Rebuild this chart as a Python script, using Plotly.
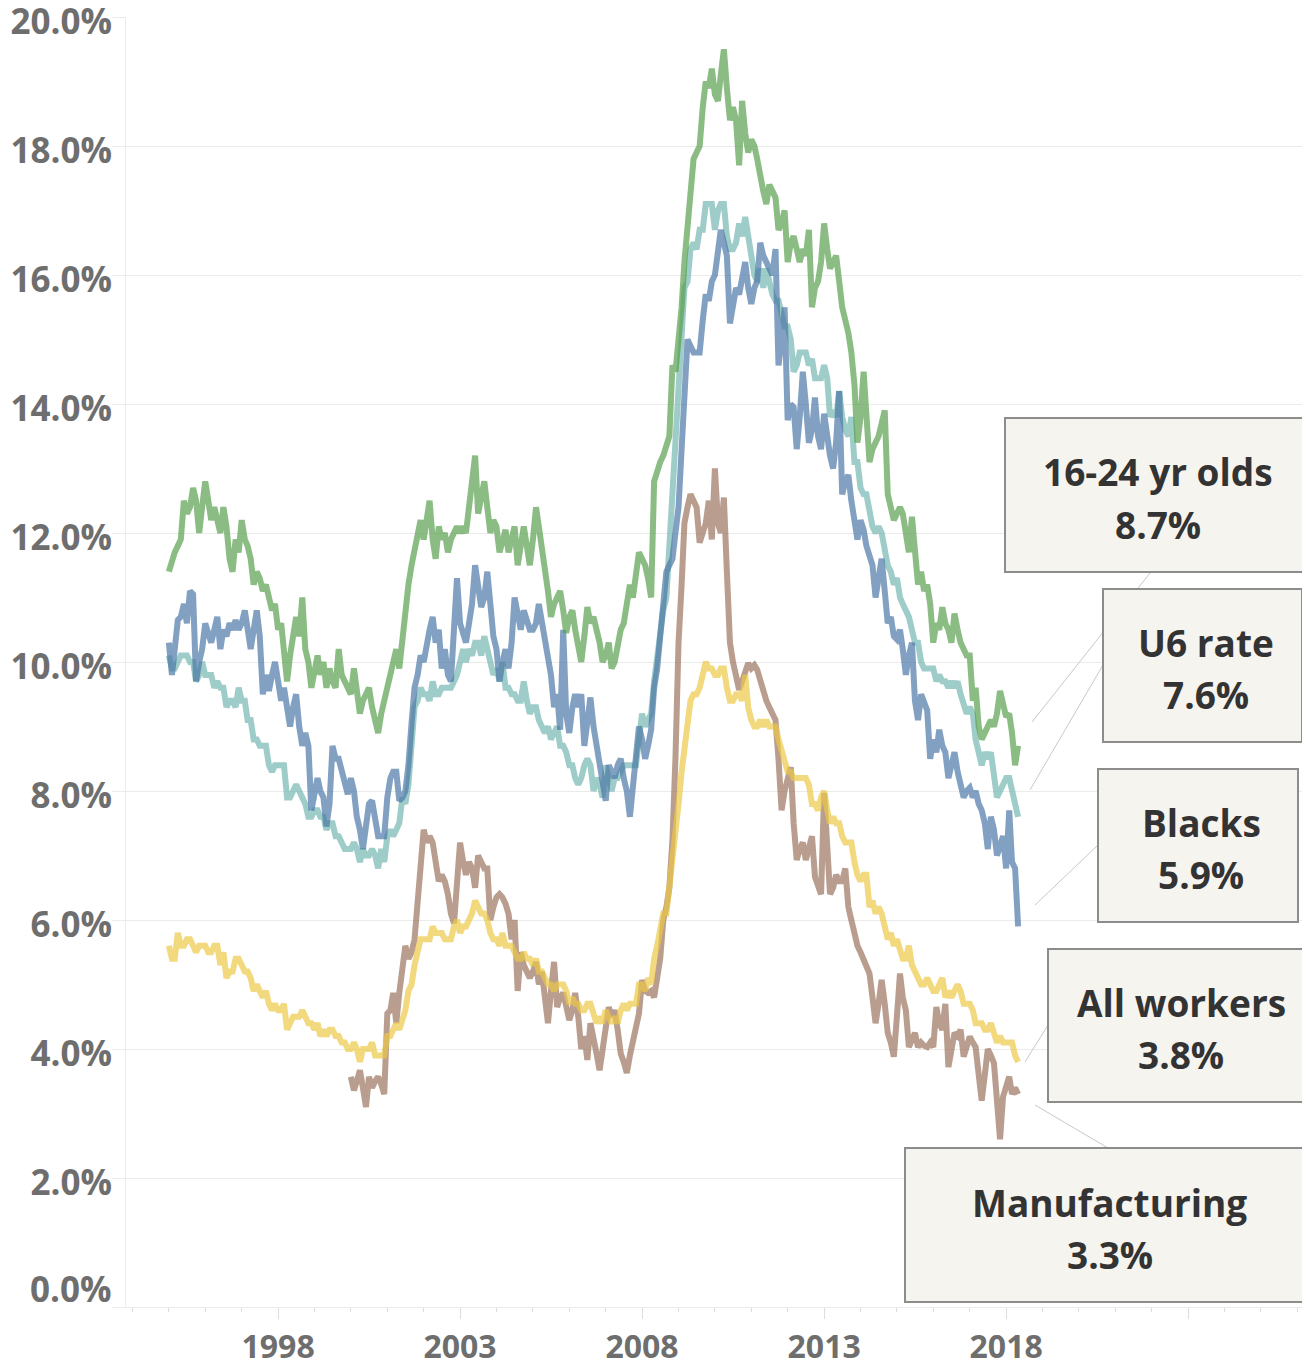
import pandas as pd
import plotly.graph_objs as go

########################################################################################################################
# UNEMPLOYMENT RATES [%], MONTHLY, JAN 1995 - MAY 2018 (manufacturing starts JAN 2000)

months = pd.date_range('1995-01-01', '2018-05-01', freq='MS')
months_mfg = pd.date_range('2000-01-01', '2018-05-01', freq='MS')

youth = [
    11.4, 11.6, 11.7, 11.8, 11.9, 12.5, 12.3, 12.4, 12.7, 12.5, 12.0, 12.4,
    12.8, 12.5, 12.2, 12.4, 12.2, 12.0, 12.4, 12.1, 11.6, 11.4, 11.9, 11.7,
    12.2, 11.9, 11.8, 11.6, 11.2, 11.4, 11.3, 11.1, 11.2, 11.0, 10.8, 10.9,
    10.5, 10.6, 10.2, 9.7, 10.1, 10.5, 10.7, 10.4, 11.0, 10.2, 10.0, 9.6,
    9.9, 10.1, 9.8, 10.0, 9.6, 9.9, 9.7, 9.6, 10.2, 9.8, 9.7, 9.6,
    9.5, 9.9, 9.6, 9.2, 9.4, 9.5, 9.6, 9.3, 9.1, 8.9, 9.2, 9.4,
    9.6, 9.8, 10.0, 10.2, 9.9, 10.4, 10.7, 11.2, 11.5, 11.7, 11.9, 12.2,
    11.9, 12.2, 12.5, 11.9, 11.6, 12.1, 11.9, 12.0, 11.7, 11.9, 12.0, 12.1,
    12.0, 12.1, 12.0, 12.4, 12.8, 13.2, 12.3, 12.6, 12.8, 12.4, 12.0, 12.2,
    12.1, 11.7, 11.9, 12.05, 11.7, 11.9, 12.1, 11.5, 11.8, 12.1, 11.8, 11.5,
    11.9, 12.4, 12.1, 11.8, 11.5, 11.1, 10.7, 10.9, 11.0, 11.1, 10.8, 10.45,
    10.7, 10.8, 10.5, 10.2, 10.0, 10.4, 10.85, 10.6, 10.7, 10.5, 10.3, 10.0,
    10.1, 10.3, 9.9, 10.0, 10.3, 10.5, 10.6, 10.9, 11.2, 11.0, 11.4, 11.7,
    11.6, 11.5, 11.3, 11.0, 12.8, 13.0, 13.1, 13.2, 13.4, 13.5, 14.6, 14.5,
    15.0, 15.5, 16.2, 16.7, 17.3, 17.8, 17.9, 18.0, 18.6, 19.0, 18.9, 19.2,
    18.8, 18.7, 19.1, 19.5, 18.9, 18.4, 18.6, 18.4, 17.7, 18.7, 18.2, 17.9,
    18.1, 18.0, 17.8, 17.5, 17.3, 17.1, 17.4, 17.3, 17.2, 16.7, 16.8, 17.0,
    16.2, 16.5, 16.6, 16.4, 16.2, 16.4, 16.3, 16.7, 15.5, 15.8, 15.9, 16.2,
    16.8, 16.4, 16.1, 16.2, 16.3, 15.9, 15.5, 15.3, 15.1, 14.8, 14.3, 13.4,
    13.8, 14.5, 13.9, 13.1, 13.3, 13.4, 13.5, 13.7, 13.9, 12.6, 12.4, 12.2,
    12.3, 12.4, 12.3, 12.0, 11.7, 12.25, 11.8, 11.2, 11.4, 11.1, 11.2, 10.9,
    10.3, 10.6, 10.5, 10.85, 10.6, 10.5, 10.3, 10.75, 10.5, 10.3, 10.2, 10.1,
    10.1, 9.4, 9.6, 9.0, 8.8, 8.9, 9.0, 9.1, 9.0, 9.2, 9.55, 9.3,
    9.15, 9.2, 8.9, 8.4, 8.7,
]

u6 = [
    10.1, 9.9, 9.9, 10.0, 10.1, 10.1, 10.1, 10.0, 10.0, 9.7, 9.8, 10.0,
    9.8, 9.8, 9.8, 9.6, 9.7, 9.6, 9.6, 9.3, 9.4, 9.4, 9.3, 9.6,
    9.4, 9.4, 9.1, 9.1, 8.8, 8.8, 8.7, 8.7, 8.7, 8.4, 8.3, 8.4,
    8.4, 8.4, 8.4, 7.9, 7.9, 8.0, 8.1, 8.0, 7.9, 7.8, 7.6, 7.6,
    7.7, 7.7, 7.6, 7.6, 7.4, 7.5, 7.5, 7.3, 7.3, 7.2, 7.1, 7.1,
    7.1, 7.2, 7.1, 6.9, 7.1, 7.0, 7.0, 7.1, 7.0, 6.8, 7.1, 6.9,
    7.3, 7.4, 7.3, 7.4, 7.5, 7.9, 7.8, 8.1, 8.7, 9.3, 9.4, 9.6,
    9.5, 9.5, 9.4, 9.7, 9.5, 9.5, 9.6, 9.6, 9.6, 9.6, 9.7, 9.8,
    10.0, 10.2, 10.0, 10.2, 10.1, 10.3, 10.3, 10.1, 10.4, 10.2, 10.0, 9.8,
    9.9, 9.7, 10.0, 9.6, 9.6, 9.5, 9.5, 9.4, 9.4, 9.7, 9.4, 9.2,
    9.3, 9.3, 9.1, 9.0, 8.9, 9.0, 8.8, 8.9, 9.0, 8.7, 8.7, 8.6,
    8.4, 8.4, 8.2, 8.1, 8.2, 8.4, 8.5, 8.4, 8.0, 8.2, 8.1, 7.9,
    8.4, 8.2, 8.0, 8.2, 8.2, 8.3, 8.4, 8.4, 8.4, 8.4, 8.4, 8.8,
    9.2, 9.0, 9.1, 9.2, 9.7, 10.1, 10.5, 10.8, 11.0, 11.8, 12.6, 13.6,
    14.2, 15.2, 15.8, 15.9, 16.4, 16.5, 16.4, 16.7, 16.7, 17.1, 17.1, 17.1,
    16.7, 17.0, 17.1, 17.1, 16.6, 16.4, 16.4, 16.5, 16.8, 16.6, 16.9, 16.6,
    16.2, 16.0, 15.9, 16.1, 15.8, 16.1, 15.9, 15.7, 15.6, 15.6, 15.4, 15.2,
    15.2, 15.0, 14.5, 14.6, 14.8, 14.8, 14.8, 14.6, 14.7, 14.4, 14.4, 14.4,
    14.6, 14.4, 13.8, 13.9, 13.8, 14.2, 13.8, 13.6, 13.5, 13.8, 13.1, 13.1,
    12.7, 12.6, 12.6, 12.3, 12.1, 12.0, 12.1, 12.0, 11.7, 11.5, 11.4, 11.2,
    11.3, 11.0, 10.9, 10.8, 10.7, 10.5, 10.3, 10.3, 10.0, 9.9, 9.9, 9.9,
    9.9, 9.7, 9.8, 9.7, 9.7, 9.6, 9.7, 9.6, 9.7, 9.5, 9.3, 9.2,
    9.3, 9.2, 8.8, 8.6, 8.4, 8.6, 8.5, 8.6, 8.3, 7.9, 8.0, 8.1,
    8.2, 8.2, 8.0, 7.8, 7.6,
]

blacks = [
    10.3, 9.8, 10.2, 10.65, 10.7, 10.9, 10.6, 11.1, 11.05, 9.7, 10.0, 10.2,
    10.6, 10.4, 10.3, 10.5, 10.7, 10.2, 10.5, 10.4, 10.6, 10.5, 10.65, 10.5,
    10.6, 10.8, 10.5, 10.2, 10.5, 10.8, 10.4, 9.5, 9.8, 9.55, 9.8, 10.0,
    9.7, 9.4, 9.6, 9.2, 9.0, 9.3, 9.5, 9.0, 8.7, 8.9, 8.7, 7.7,
    8.0, 8.2, 8.0, 7.9, 7.45, 7.8, 8.7, 8.5, 8.5, 8.3, 8.1, 7.95,
    8.2, 8.0, 7.6, 7.4, 7.1, 7.5, 7.8, 7.85, 7.5, 7.3, 7.3, 7.3,
    7.9, 8.2, 8.3, 8.3, 7.85, 7.9, 8.0, 8.4, 9.05, 9.6, 9.8, 10.1,
    10.0, 10.3, 10.5, 10.7, 10.3, 10.5, 9.9, 10.2, 9.8, 9.7, 10.4, 11.3,
    10.6, 10.45, 10.3, 10.6, 10.9, 11.5, 11.1, 10.85, 11.0, 11.4, 10.9, 10.4,
    10.2, 9.7, 10.0, 10.2, 9.9, 10.3, 11.0, 10.7, 10.5, 10.8, 10.6, 10.5,
    10.5, 10.6, 10.9, 10.6, 10.4, 10.1, 9.8, 9.3, 9.5, 8.95, 10.5, 9.2,
    8.9, 9.3, 9.5, 9.3, 9.5, 8.7, 9.1, 9.45, 9.0, 8.7, 8.5, 8.1,
    7.85, 8.4, 8.3, 8.2, 8.4, 8.5, 8.2, 8.0, 7.6, 8.1, 8.4, 9.0,
    8.8, 8.5, 8.7, 8.95, 9.6, 9.9, 10.4, 10.9, 11.4, 11.5, 11.6, 12.0,
    12.4, 13.3, 14.0, 15.0, 14.9, 14.8, 14.8, 14.8, 15.3, 15.7, 15.6, 15.9,
    16.0, 16.3, 16.7, 16.5, 16.3, 15.25, 15.5, 15.8, 15.7, 15.9, 16.2, 15.8,
    15.55, 15.8, 15.9, 16.5, 16.3, 16.2, 16.1, 16.0, 16.4, 14.6, 15.0, 15.5,
    13.75, 14.0, 13.95, 13.3, 13.8, 14.5, 14.0, 13.4, 13.6, 14.1, 13.5, 13.3,
    13.85, 13.4, 13.2, 13.0, 13.4, 14.2, 12.6, 12.8, 12.9, 12.5, 12.2, 11.9,
    12.2, 12.05, 11.8, 11.6, 11.5, 11.0, 11.3, 11.6, 11.1, 10.6, 10.7, 10.4,
    10.35, 10.5, 10.2, 9.8, 10.1, 10.3, 9.4, 9.1, 9.5, 9.4, 9.25, 8.5,
    8.8, 8.6, 8.95, 8.7, 8.6, 8.2, 8.4, 8.6, 8.3, 8.1, 7.9, 8.0,
    8.05, 7.9, 8.0, 7.8, 7.7, 7.5, 7.1, 7.6, 7.4, 7.0, 7.2, 7.3,
    6.8, 7.7, 6.9, 6.8, 5.9,
]

all_workers = [
    5.6, 5.4, 5.4, 5.8, 5.6, 5.6, 5.7, 5.7, 5.6, 5.5, 5.6, 5.6,
    5.6, 5.5, 5.5, 5.6, 5.6, 5.3, 5.5, 5.1, 5.2, 5.2, 5.4, 5.4,
    5.3, 5.2, 5.2, 5.1, 4.9, 5.0, 4.9, 4.8, 4.9, 4.7, 4.6, 4.7,
    4.6, 4.6, 4.7, 4.3, 4.4, 4.5, 4.5, 4.5, 4.6, 4.5, 4.4, 4.4,
    4.3, 4.4, 4.2, 4.3, 4.2, 4.3, 4.3, 4.2, 4.2, 4.1, 4.1, 4.0,
    4.0, 4.1, 4.0, 3.8, 4.0, 4.0, 4.0, 4.1, 3.9, 3.9, 3.9, 3.9,
    4.2, 4.2, 4.3, 4.4, 4.3, 4.5, 4.6, 4.9, 5.0, 5.3, 5.5, 5.7,
    5.7, 5.7, 5.7, 5.9, 5.8, 5.8, 5.8, 5.7, 5.7, 5.7, 5.9, 6.0,
    5.8, 5.9, 5.9, 6.0, 6.1, 6.3, 6.2, 6.1, 6.1, 6.0, 5.8, 5.7,
    5.7, 5.6, 5.8, 5.6, 5.6, 5.6, 5.5, 5.4, 5.4, 5.5, 5.4, 5.4,
    5.3, 5.4, 5.2, 5.2, 5.1, 5.0, 5.0, 4.9, 5.0, 5.0, 5.0, 4.9,
    4.7, 4.8, 4.7, 4.7, 4.6, 4.6, 4.7, 4.7, 4.5, 4.4, 4.5, 4.4,
    4.6, 4.5, 4.4, 4.5, 4.4, 4.6, 4.7, 4.6, 4.7, 4.7, 4.7, 5.0,
    5.0, 4.9, 5.1, 5.0, 5.4, 5.6, 5.8, 6.1, 6.1, 6.5, 6.8, 7.3,
    7.8, 8.3, 8.7, 9.0, 9.4, 9.5, 9.5, 9.6, 9.8, 10.0, 9.9, 9.9,
    9.8, 9.8, 9.9, 9.9, 9.6, 9.4, 9.4, 9.5, 9.5, 9.4, 9.8, 9.3,
    9.1, 9.0, 9.0, 9.1, 9.0, 9.1, 9.0, 9.0, 9.0, 8.8, 8.6, 8.5,
    8.3, 8.3, 8.2, 8.2, 8.2, 8.2, 8.2, 8.1, 7.8, 7.8, 7.7, 7.9,
    8.0, 7.7, 7.5, 7.6, 7.5, 7.5, 7.3, 7.2, 7.2, 7.2, 6.9, 6.7,
    6.6, 6.7, 6.7, 6.2, 6.3, 6.1, 6.2, 6.1, 5.9, 5.7, 5.8, 5.6,
    5.7, 5.5, 5.4, 5.4, 5.6, 5.3, 5.2, 5.1, 5.0, 5.0, 5.1, 5.0,
    4.9, 4.9, 5.0, 5.1, 4.8, 4.9, 4.8, 4.9, 5.0, 4.9, 4.7, 4.7,
    4.7, 4.6, 4.4, 4.4, 4.4, 4.3, 4.3, 4.4, 4.2, 4.1, 4.2, 4.1,
    4.1, 4.1, 4.1, 3.9, 3.8,
]

manufacturing = [
    3.57, 3.36, 3.5, 3.67, 3.4, 3.1, 3.57, 3.4, 3.5, 3.57, 3.45, 3.3,
    4.55, 4.6, 4.87, 4.4, 4.87, 5.2, 5.6, 5.4, 5.5, 5.7, 6.3, 6.9,
    7.4, 7.2, 7.3, 7.2, 6.9, 6.6, 6.7, 6.6, 6.4, 6.1, 5.95, 6.6,
    7.2, 6.9, 6.7, 6.9, 6.8, 6.5, 7.0, 6.9, 6.8, 6.8, 6.0, 6.2,
    6.35, 6.4, 6.35, 6.25, 6.1, 5.7, 6.0, 4.9, 5.5, 5.3, 5.2, 5.1,
    5.2, 5.35, 5.0, 5.2, 4.8, 4.4, 4.9, 5.35, 4.65, 4.8, 4.87, 4.6,
    4.45, 4.6, 4.87, 4.5, 4.0, 4.2, 3.83, 4.4, 4.2, 3.93, 3.67, 4.0,
    4.35, 4.65, 4.5, 4.6, 4.3, 3.93, 3.8, 3.63, 3.9, 4.14, 4.3, 4.55,
    5.07, 4.9, 4.87, 4.9, 4.8, 5.1, 5.4, 6.0, 6.2, 6.5, 7.24, 8.5,
    10.3, 11.2, 12.15, 12.4, 12.6, 12.5, 12.4, 11.85, 12.0, 12.15, 12.5, 11.9,
    13.0, 12.15, 12.0, 12.55, 11.4, 10.3, 10.0, 9.8, 9.57, 9.7, 9.88, 9.98,
    9.9, 9.95, 9.88, 9.7, 9.57, 9.4, 9.3, 9.2, 9.1, 8.5, 7.7, 8.0,
    8.2, 8.37, 7.5, 6.93, 7.1, 7.2, 6.93, 7.1, 7.3, 6.67, 6.5, 6.4,
    7.97, 7.1, 6.4, 6.5, 6.7, 6.6, 6.6, 6.8, 6.2, 6.0, 5.8, 5.6,
    5.5, 5.4, 5.3, 5.17, 4.8, 4.4, 4.7, 5.07, 4.7, 4.25, 4.1, 3.88,
    4.5, 5.17, 4.8, 4.6, 4.03, 4.15, 4.25, 4.03, 4.1, 4.05, 4.03, 4.1,
    4.03, 4.65, 4.4, 4.3, 4.7, 3.72, 4.0, 4.25, 4.2, 4.3, 3.88, 4.05,
    4.19, 4.1, 4.03, 3.6, 3.2, 3.6, 4.0, 3.9, 3.78, 3.2, 2.6, 3.26,
    3.4, 3.57, 3.3, 3.4, 3.3,
]

names = ['16-24 yr olds', 'U6 rate', 'Blacks', 'All workers', 'Manufacturing']

########################################################################################################################
# LAYOUT HELPERS
# the page body adds an 8px margin, so the figure is 8px smaller than the window;
# positions below are in window pixels and are converted to paper coordinates of the plot area

PAGE_OFFSET = 8
W, H = 1310 - PAGE_OFFSET, 1369 - PAGE_OFFSET
PLOT_L, PLOT_R, PLOT_T, PLOT_B = 126, 1310, 17, 1307


def px_x(px):
    return (px - PLOT_L) / (PLOT_R - PLOT_L)


def px_y(py):
    return (PLOT_B - py) / (PLOT_B - PLOT_T)


series = [
    (months_mfg, manufacturing, '#9c755f'),
    (months, all_workers, '#edc948'),
    (months, u6, '#76b7b2'),
    (months, blacks, '#4e79a7'),
    (months, youth, '#59a14f'),
]

fig = go.Figure()

for x, y, color in series:
    fig.add_trace(go.Scatter(x=x,
                             y=y,
                             mode='lines',
                             line=dict(width=6, color=color),
                             opacity=0.7,
                             showlegend=False,
                             hoverinfo='skip'
                             )
                  )

########################################################################################################################
# LABEL BOXES: box left, top, right, bottom, leader start, leader end (window px)

label_values = [youth[-1], u6[-1], blacks[-1], all_workers[-1], manufacturing[-1]]

boxes = [
    (1005, 418, 1305, 572, (1032, 722), (1150, 573)),
    (1103, 589, 1302, 742, (1030, 790), (1103, 665)),
    (1098, 769, 1298, 922, (1035, 905), (1098, 845)),
    (1048, 949, 1308, 1102, (1025, 1062), (1048, 1025)),
    (905, 1148, 1308, 1302, (1035, 1105), (1108, 1148)),
]

shapes = []
annotations = []
label_font = dict(family='Open Sans', size=37, color='#333333', weight='bold')
tick_font = dict(family='Open Sans', size=35, color='#6e6e6e', weight='bold')

for name, value, (x0, y0, x1, y1, p0, p1) in zip(names, label_values, boxes):
    shapes.append(dict(type='line', xref='paper', yref='paper',
                       x0=px_x(p0[0]), y0=px_y(p0[1]), x1=px_x(p1[0]), y1=px_y(p1[1]),
                       line=dict(color='#c8c8c8', width=1)))
    shapes.append(dict(type='rect', xref='paper', yref='paper',
                       x0=px_x(x0), y0=px_y(y0), x1=px_x(x1), y1=px_y(y1),
                       fillcolor='#f6f4ef', line=dict(color='#8c8c8c', width=2)))
    cx = (x0 + x1) / 2 + 3
    cy = (y0 + y1) / 2
    annotations.append(dict(xref='paper', yref='paper', x=px_x(cx), y=px_y(cy - 23),
                            text=name, showarrow=False, font=label_font,
                            xanchor='center', yanchor='middle'))
    annotations.append(dict(xref='paper', yref='paper', x=px_x(cx), y=px_y(cy + 29),
                            text='%.1f%%' % value, showarrow=False, font=label_font,
                            xanchor='center', yanchor='middle'))

# 0.0% tick label sits above the baseline in the original
annotations.append(dict(xref='paper', yref='paper', x=0, y=0, xshift=-12, yshift=19,
                        text='0.0%', showarrow=False, xanchor='right', yanchor='middle',
                        font=tick_font))

y_ticks = [0, 2, 4, 6, 8, 10, 12, 14, 16, 18, 20]
x_ticks = ['1998-01-01', '2003-01-01', '2008-01-01', '2013-01-01', '2018-01-01', '2023-01-01']
x_ticktext = ['1998', '2003', '2008', '2013', '2018', '']

fig.update_layout(
    width=W, height=H,
    margin=dict(l=PLOT_L - PAGE_OFFSET, r=1310 - PLOT_R, t=PLOT_T - PAGE_OFFSET, b=1369 - PLOT_B,
                autoexpand=False),
    plot_bgcolor='white',
    paper_bgcolor='white',
    shapes=shapes,
    annotations=annotations,
    xaxis=dict(type='date',
               range=['1993-10-28', '2026-05-08'],
               tickmode='array', tickvals=x_ticks, ticktext=x_ticktext,
               ticks='outside', ticklen=11, tickcolor='#dddddd', tickwidth=1,
               minor=dict(tickmode='linear', tick0='1994-01-01', dtick='M12',
                          ticks='outside', ticklen=4, tickcolor='#dddddd', showgrid=False),
               ticklabelstandoff=1,
               ticklabeloverflow='allow',
               automargin=False,
               showgrid=False, zeroline=False,
               showline=True, linecolor='#ebebeb', linewidth=1,
               tickfont=dict(tick_font, size=32)),
    yaxis=dict(range=[0, 20],
               tickmode='array', tickvals=y_ticks,
               ticktext=['' if v == 0 else '%.1f%%' % v for v in y_ticks],
               ticks='outside', ticklen=13, tickcolor='#ebebeb',
               ticklabelshift=5,
               ticklabelstandoff=-7,
               ticklabeloverflow='allow',
               automargin=False,
               showgrid=True, gridcolor='#ebebeb', gridwidth=1,
               zeroline=False,
               showline=True, linecolor='#ebebeb', linewidth=1,
               tickfont=tick_font),
)

fig.write_html('out.html')
